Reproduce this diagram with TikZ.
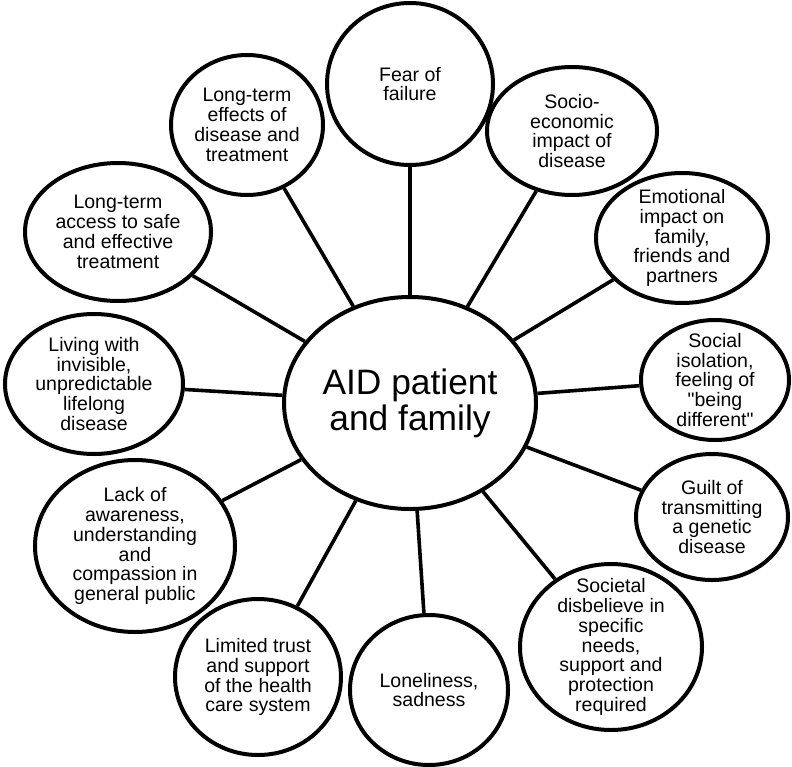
\documentclass[tikz,border=0pt]{standalone}
\usepackage{fontspec}
\setmainfont{Liberation Sans}
\usetikzlibrary{shapes.geometric,backgrounds}
\tikzset{
  bubble/.style={ellipse, draw=black, line width=4bp, fill=white, inner sep=0pt},
  txt/.style={align=center, font=\fontsize{19.6}{20}\selectfont, inner sep=0pt},
  bigtxt/.style={align=center, font=\fontsize{35.5}{36}\selectfont, inner sep=0pt},
  link/.style={line width=3.6bp, black}
}
\begin{document}
\begin{tikzpicture}[x=1bp,y=-1bp]
\useasboundingbox (0,0) rectangle (792,767);
\node[bubble, minimum width=252bp, minimum height=212bp] (c) at (410,403) {};
\node[bubble, minimum width=166bp, minimum height=162bp] (fear) at (410,84) {};
\node[bubble, minimum width=170bp, minimum height=128bp] (socio) at (572,131) {};
\node[bubble, minimum width=172bp, minimum height=130bp] (emot) at (682,238) {};
\node[bubble, minimum width=148bp, minimum height=120bp] (social) at (715,380) {};
\node[bubble, minimum width=152bp, minimum height=126bp] (guilt) at (712,517) {};
\node[bubble, minimum width=182bp, minimum height=166bp] (societal) at (611,647) {};
\node[bubble, minimum width=158bp, minimum height=150bp] (lonely) at (429,690) {};
\node[bubble, minimum width=166bp, minimum height=156bp] (limited) at (258,677) {};
\node[bubble, minimum width=200bp, minimum height=172bp] (lack) at (135,546) {};
\node[bubble, minimum width=178bp, minimum height=140bp] (living) at (94,384) {};
\node[bubble, minimum width=186bp, minimum height=138bp] (access) at (118,232) {};
\node[bubble, minimum width=152bp, minimum height=140bp] (effects) at (247,125) {};
\begin{scope}[on background layer]
\foreach \n in {fear,socio,emot,social,guilt,societal,lonely,limited,lack,living,access,effects}{
  \draw[link] (c) -- (\n);
}
\end{scope}
\node[bigtxt] (tc) at (c.center) {AID patient\\and family};
\node[txt] (tfear) at (fear.center) {Fear of\\failure};
\node[txt] (tsocio) at (socio.center) {Socio-\\economic\\impact of\\disease};
\node[txt] (temot) at (emot.center) {Emotional\\impact on\\family,\\friends and\\partners};
\node[txt] (tsocial) at (social.center) {Social\\isolation,\\feeling of\\\textquotedbl being\\different\textquotedbl};
\node[txt] (tguilt) at (guilt.center) {Guilt of\\transmitting\\a genetic\\disease};
\node[txt] (tsocietal) at (societal.center) {Societal\\disbelieve in\\specific\\needs,\\support and\\protection\\required};
\node[txt] (tlonely) at (lonely.center) {Loneliness,\\sadness};
\node[txt] (tlimited) at (limited.center) {Limited trust\\and support\\of the health\\care system};
\node[txt] (tlack) at (lack.center) {Lack of\\awareness,\\understanding\\and\\compassion in\\general public};
\node[txt] (tliving) at (living.center) {Living with\\invisible,\\unpredictable\\lifelong\\disease};
\node[txt] (taccess) at (access.center) {Long-term\\access to safe\\and effective\\treatment};
\node[txt] (teffects) at (effects.center) {Long-term\\effects of\\disease and\\treatment};
\end{tikzpicture}
\end{document}
